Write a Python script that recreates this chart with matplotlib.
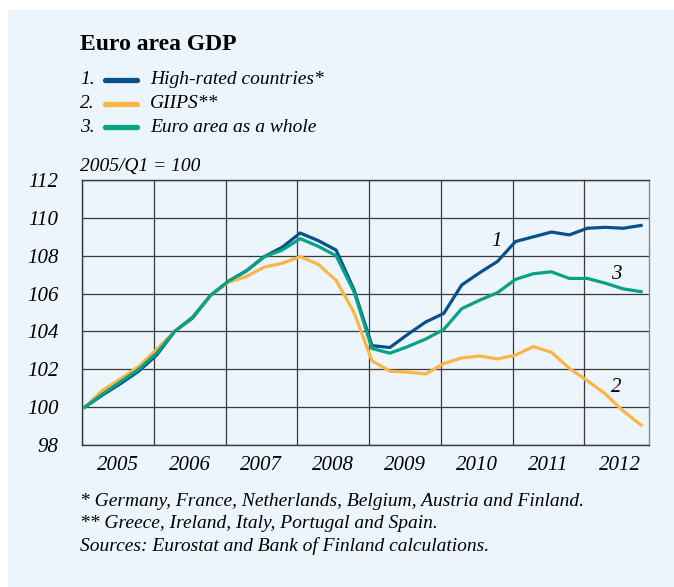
#!/usr/bin/env python3
"""
euro_gdp.py — Euro area GDP by country group, index 2005/Q1 = 100.
Saves out.png.
"""
import numpy as np
import matplotlib
matplotlib.use("Agg")
import matplotlib.pyplot as plt
from matplotlib.lines import Line2D
from matplotlib.patches import Rectangle

plt.rcParams.update({
    "font.family": ["Liberation Serif", "DejaVu Serif"],
    "font.size": 14,
    "font.style": "italic",
    "figure.dpi": 100,
})

W, H = 674, 587
BG = "#ecf4fc"
BLUE = "#07508c"
YELLOW = "#fbb545"
GREEN = "#06a286"
GRID = "#3a3a3a"

# ── Data (quarterly, 2005Q1 … 2012Q4) ─────────────────
years = [2005, 2006, 2007, 2008, 2009, 2010, 2011, 2012]
high_rated = [
    100.0, 100.65, 101.25, 101.9, 102.75, 104.0, 104.7, 105.9,
    106.65, 107.2, 107.95, 108.45, 109.2, 108.8, 108.3, 106.2,
    103.25, 103.15, 103.85, 104.5, 104.95, 106.45, 107.1, 107.7,
    108.75, 109.0, 109.25, 109.1, 109.45, 109.5, 109.45, 109.6,
]
giips = [
    100.0, 100.9, 101.5, 102.15, 103.05, 104.0, 104.75, 105.9,
    106.6, 106.9, 107.4, 107.6, 107.95, 107.55, 106.7, 105.0,
    102.45, 101.9, 101.85, 101.75, 102.3, 102.6, 102.7, 102.55,
    102.75, 103.2, 102.9, 102.05, 101.4, 100.7, 99.8, 99.05,
]
euro_area = [
    100.0, 100.7, 101.35, 102.0, 102.85, 104.0, 104.75, 105.9,
    106.65, 107.2, 107.95, 108.3, 108.9, 108.5, 108.0, 106.1,
    103.1, 102.85, 103.2, 103.6, 104.1, 105.2, 105.65, 106.05,
    106.75, 107.05, 107.15, 106.8, 106.8, 106.55, 106.25, 106.1,
]
y_ticks = [98, 100, 102, 104, 106, 108, 110, 112]

series = [
    ("1.", "High-rated countries*", high_rated, BLUE),
    ("2.", "GIIPS**", giips, YELLOW),
    ("3.", "Euro area as a whole", euro_area, GREEN),
]
# in-plot series numbers: (text, x in years, y value)
line_labels = [("1", 2010.78, 108.75), ("3", 2012.45, 107.0), ("2", 2012.45, 101.05)]
footnotes = [
    "* Germany, France, Netherlands, Belgium, Austria and Finland.",
    "** Greece, Ireland, Italy, Portugal and Spain.",
    "Sources: Eurostat and Bank of Finland calculations.",
]


def fx(px):
    return px / W


def fy(py):
    return 1 - py / H


def main():
    fig = plt.figure(figsize=(W / 100, H / 100), facecolor="white")
    fig.patches.append(Rectangle((fx(8), 0), 1, fy(10), transform=fig.transFigure,
                                 facecolor=BG, edgecolor="none", zorder=-5))

    ax = fig.add_axes([fx(82), fy(445), fx(649) - fx(82), fy(180) - fy(445)])
    ax.set_zorder(1)
    ax.set_facecolor(BG)

    n = len(high_rated)
    x = years[0] + np.arange(n) / 4 + 0.04
    for _, _, vals, col in series:
        ax.plot(x, vals, color=col, lw=2.3, solid_joinstyle="round", zorder=3)

    ax.set_xlim(years[0], years[-1] + 0.9)
    ax.set_ylim(y_ticks[0], y_ticks[-1])
    ax.set_yticks(y_ticks)
    ax.set_yticklabels([str(v) for v in y_ticks], fontsize=15)
    ax.set_xticks(years)
    ax.set_xticklabels([])
    ax.set_xticks([y + 0.5 for y in years], minor=True)
    ax.set_xticklabels([str(y) for y in years], minor=True, fontsize=15)
    for lab in ax.get_yticklabels() + ax.get_xticklabels(minor=True):
        lab.set_fontstyle("italic")
    ax.tick_params(axis="both", which="both", length=0)
    ax.tick_params(axis="y", pad=17)
    ax.tick_params(axis="x", which="minor", pad=8)
    ax.grid(True, which="major", color=GRID, lw=0.9)
    for s in ax.spines.values():
        s.set_color(GRID)
        s.set_linewidth(1.0)
    ax.spines["right"].set_color("#8a8a8a")

    for txt, lx, ly in line_labels:
        ax.text(lx, ly, txt, fontsize=15, ha="center", va="center")

    # Title and legend
    fig.text(fx(80), fy(45), "Euro area GDP", fontsize=17, fontweight="bold",
             fontstyle="normal", ha="left", va="center")
    for k, (num, label, _, col) in enumerate(series):
        yy = fy(80 + 23.5 * k)
        fig.text(fx(80), yy, num, fontsize=14, ha="left", va="center")
        fig.add_artist(Line2D([fx(105), fx(137)], [yy, yy], color=col, lw=3.8,
                              solid_capstyle="round", transform=fig.transFigure))
        fig.text(fx(150), yy, label, fontsize=14, ha="left", va="center")

    fig.text(fx(80), fy(167), "2005/Q1 = 100", fontsize=14, ha="left", va="center")

    for k, line in enumerate(footnotes):
        fig.text(fx(80), fy(501 + 22.5 * k), line, fontsize=14, ha="left", va="center")

    fig.savefig("out.png", dpi=100, facecolor="white")
    plt.close(fig)


if __name__ == "__main__":
    main()
